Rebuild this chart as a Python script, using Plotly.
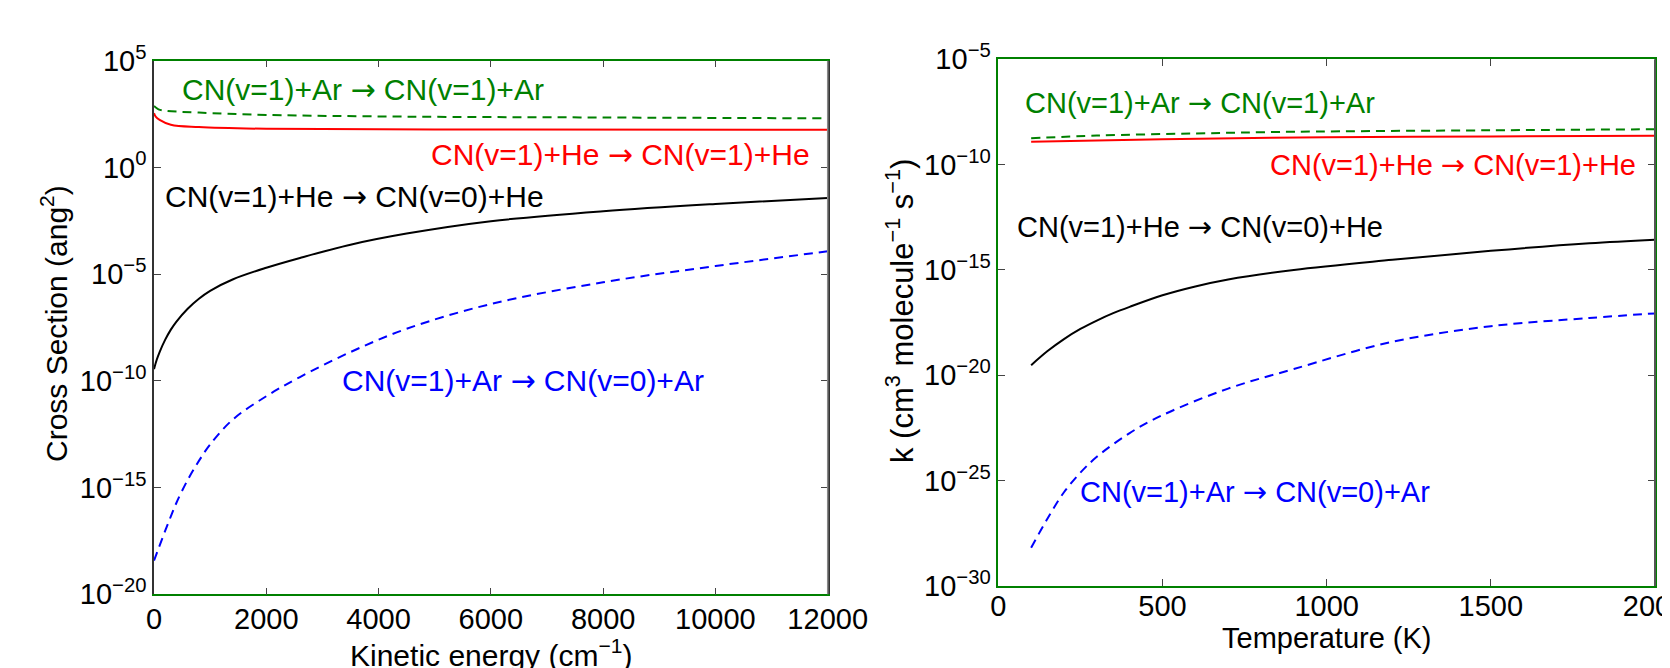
import numpy as np
import plotly.graph_objects as go

# ---------------- data (stored as log10) ----------------
# Left panel: cross section (ang^2) vs kinetic energy (cm^-1)
energy_he_inel = [0, 50, 100, 200, 300, 400, 600, 800, 1000, 1400, 2000, 2600, 3500, 4500, 6000, 8000, 10000, 12000]
he_v1_v0_log = [-9.45, -9.0, -8.65, -8.07, -7.60, -7.22, -6.62, -6.15, -5.78, -5.25, -4.70, -4.24, -3.62,
                -3.10, -2.52, -2.05, -1.71, -1.43]
energy_ar_inel = [0, 50, 100, 200, 300, 400, 600, 800, 1000, 1400, 2000, 2600, 3500, 4500, 6000, 8000, 10000, 12000]
ar_v1_v0_log = [-18.42, -18.07, -17.72, -17.02, -16.35, -15.71, -14.64, -13.75, -12.98, -11.82, -10.72, -9.82,
                -8.65, -7.56, -6.40, -5.38, -4.62, -3.93]

energy_he_el = [0, 30, 100, 300, 800, 2000, 5000, 12000]
he_v1_v1_log = [2.54, 2.38, 2.23, 2.0, 1.89, 1.81, 1.78, 1.76]
energy_ar_el = [0, 80, 226, 800, 2000, 4500, 8000, 12000]
ar_v1_v1_log = [2.88, 2.72, 2.65, 2.57, 2.46, 2.38, 2.34, 2.30]

# Right panel: rate constant k (cm^3 molecule^-1 s^-1) vs temperature (K)
temp_he_inel = [100, 150, 200, 250, 300, 350, 400, 500, 600, 700, 900, 1200, 1500, 1800, 2000]
k_he_v1_v0_log = [-19.52, -18.85, -18.28, -17.80, -17.40, -17.05, -16.75, -16.20, -15.78, -15.45, -15.0,
                  -14.52, -14.09, -13.73, -13.56]
temp_ar_inel = [100, 150, 200, 250, 300, 400, 500, 700, 900, 1200, 1500, 1800, 2000]
k_ar_v1_v0_log = [-28.18, -26.8, -25.55, -24.62, -23.87, -22.74, -21.89, -20.63, -19.70, -18.41, -17.67,
                  -17.28, -17.06]

temp_ar_el = [100, 300, 600, 900, 1500, 2000]
k_ar_v1_v1_log = [-8.75, -8.62, -8.52, -8.44, -8.37, -8.32]
temp_he_el = [100, 500, 1000, 1500, 2000]
k_he_v1_v1_log = [-8.91, -8.79, -8.70, -8.66, -8.63]

left_xticks = [0, 2000, 4000, 6000, 8000, 10000, 12000]
right_xticks = [0, 500, 1000, 1500, 2000]
left_yexp = [5, 0, -5, -10, -15, -20]
right_yexp = [-5, -10, -15, -20, -25, -30]

ARROW = ' <span style="font-family:DejaVu Sans">\u2192</span> '
labels = {
    "ar_el": "CN(v=1)+Ar" + ARROW + "CN(v=1)+Ar",
    "he_el": "CN(v=1)+He" + ARROW + "CN(v=1)+He",
    "he_in": "CN(v=1)+He" + ARROW + "CN(v=0)+He",
    "ar_in": "CN(v=1)+Ar" + ARROW + "CN(v=0)+Ar",
}

GREEN = "#008000"
RED = "#ff0000"
BLUE = "#0000ff"
BLACK = "#000000"
FONT = "Liberation Sans, Arial, sans-serif"

def v(a):
    return 10.0 ** np.asarray(a, dtype=float)

fig = go.Figure()

def add(x, ylog, color, dash, xa, ya):
    fig.add_trace(go.Scatter(
        x=x, y=v(ylog), mode="lines", xaxis=xa, yaxis=ya,
        line=dict(color=color, width=2, dash=dash, shape="spline", smoothing=1.0),
        showlegend=False, hoverinfo="skip"))

# left panel
add(energy_ar_el, ar_v1_v1_log, GREEN, "9px,6px", "x", "y")
add(energy_he_el, he_v1_v1_log, RED, "solid", "x", "y")
add(energy_he_inel, he_v1_v0_log, BLACK, "solid", "x", "y")
add(energy_ar_inel, ar_v1_v0_log, BLUE, "9px,6px", "x", "y")
# right panel
add(temp_ar_el, k_ar_v1_v1_log, GREEN, "9px,6px", "x2", "y2")
add(temp_he_el, k_he_v1_v1_log, RED, "solid", "x2", "y2")
add(temp_he_inel, k_he_v1_v0_log, BLACK, "solid", "x2", "y2")
add(temp_ar_inel, k_ar_v1_v0_log, BLUE, "9px,6px", "x2", "y2")

# page has an 8px body margin: figure is drawn at (8, 8)
OFF = 8
W, H = 1670 - OFF, 668 - OFF

def px(xp):
    return (xp - OFF) / W

def py(yp):
    return 1 - (yp - OFF) / H

def ytext(e):
    return "10<sup>%s</sup>" % (str(e).replace("-", "\u2212"))

common_axis = dict(
    ticks="inside", ticklen=7, tickwidth=1, tickcolor="#444",
    showgrid=False, zeroline=False, showline=True, linewidth=1.5,
    mirror="ticks", automargin=False,
    tickfont=dict(family=FONT, size=29, color="black"),
)

fig.update_layout(
    template="none",
    width=W, height=H, autosize=False,
    margin=dict(l=0, r=0, t=0, b=0, pad=0),
    paper_bgcolor="white", plot_bgcolor="white",
    font=dict(family=FONT, size=29, color="black"),
    xaxis=dict(domain=[px(154), px(827.7)], range=[0, 12000], anchor="y",
               tickmode="array", tickvals=left_xticks, ticktext=[str(t) for t in left_xticks],
               linecolor=GREEN, ticklabelstandoff=-2, **common_axis),
    yaxis=dict(domain=[py(594.3), py(60.7)], type="log", range=[-20, 5], anchor="x",
               tickmode="array", tickvals=[10.0 ** e for e in left_yexp],
               ticktext=[ytext(e) for e in left_yexp], linecolor="#333",
               **common_axis),
    xaxis2=dict(domain=[px(998.3), px(1655)], range=[0, 2000], anchor="y2",
                tickmode="array", tickvals=right_xticks, ticktext=[str(t) for t in right_xticks],
                linecolor=GREEN, ticklabeloverflow="allow", ticklabelstandoff=-7, **common_axis),
    yaxis2=dict(domain=[py(586), py(59.3)], type="log", range=[-30, -5], anchor="x2",
                tickmode="array", tickvals=[10.0 ** e for e in right_yexp],
                ticktext=[ytext(e) for e in right_yexp], linecolor=GREEN,
                **common_axis),
)

# right spines with their own colours
fig.add_shape(type="line", xref="x domain", yref="y domain", x0=1, x1=1, y0=0, y1=1,
              line=dict(color="#888888", width=1.5), layer="above")
fig.add_shape(type="line", xref="x2 domain", yref="y2 domain", x0=1, x1=1, y0=0, y1=1,
              line=dict(color="#555555", width=2), layer="above")

def lab(text, x, y, color, xref, yref, xanchor="left", size=30):
    fig.add_annotation(text=text, x=x, y=y, xref=xref, yref=yref, showarrow=False,
                       xanchor=xanchor, yanchor="middle",
                       font=dict(family=FONT, size=size, color=color))

# curve labels (y in log10 units on log axes)
lab(labels["ar_el"], 463, 3.63, GREEN, "x", "y")
lab(labels["he_el"], 11728, 0.59, RED, "x", "y", xanchor="right")
lab(labels["he_in"], 155, -1.36, BLACK, "x", "y")
lab(labels["ar_in"], 3312, -10.0, BLUE, "x", "y")

lab(labels["ar_el"], 76, -7.09, GREEN, "x2", "y2", size=29)
lab(labels["he_el"], 1949, -10.02, RED, "x2", "y2", xanchor="right", size=29)
lab(labels["he_in"], 51, -12.94, BLACK, "x2", "y2", size=29)
lab(labels["ar_in"], 244, -25.56, BLUE, "x2", "y2", size=29)

# axis titles
def title(text, x, y, angle=0, size=30):
    fig.add_annotation(text=text, x=px(x), y=py(y), xref="paper", yref="paper",
                       showarrow=False, xanchor="center", yanchor="middle", textangle=angle,
                       font=dict(family=FONT, size=size, color="black"))

title("Cross Section (ang<sup>2</sup>)", 54, 324, -90)
title("k (cm<sup>3</sup> molecule<sup>\u22121</sup> s<sup>\u22121</sup>)", 900, 311, -90, size=31)
title("Kinetic energy (cm<sup>\u22121</sup>)", 491, 653)
title("Temperature (K)", 1327, 638, size=29)

fig.write_html("out.html")
